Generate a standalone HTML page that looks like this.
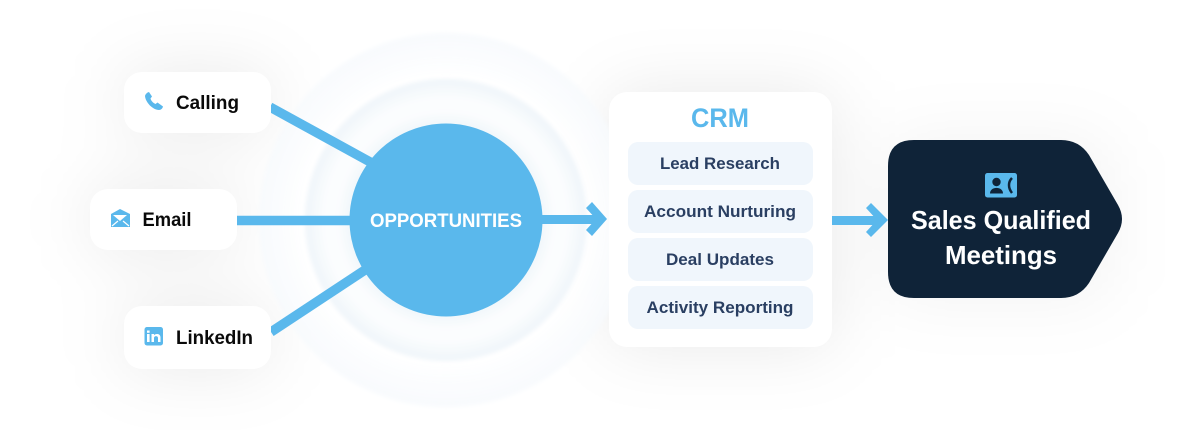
<!DOCTYPE html>
<html>
<head>
<meta charset="utf-8">
<style>
html,body{margin:0;padding:0;background:#fff;width:1200px;height:430px;overflow:hidden}
svg{display:block}
text{font-family:"Liberation Sans",sans-serif;font-weight:700}
</style>
</head>
<body>
<svg width="1200" height="430" viewBox="0 0 1200 430" xmlns="http://www.w3.org/2000/svg">
<defs>
<filter id="sh" x="-100%" y="-100%" width="300%" height="300%"><feGaussianBlur stdDeviation="34"/></filter>
<filter id="soft" x="-10%" y="-10%" width="120%" height="120%"><feGaussianBlur stdDeviation="2"/></filter>
<radialGradient id="r1" gradientUnits="userSpaceOnUse" cx="446" cy="220" r="187">
<stop offset="0.76" stop-color="#fff" stop-opacity="0.95"/><stop offset="1" stop-color="#f7fafd" stop-opacity="0.9"/>
</radialGradient>
<radialGradient id="r2" gradientUnits="userSpaceOnUse" cx="446" cy="220" r="141">
<stop offset="0.68" stop-color="#f1f7fb"/><stop offset="0.78" stop-color="#fcfdfe"/><stop offset="0.86" stop-color="#fbfdfe"/><stop offset="1" stop-color="#eff5fa"/>
</radialGradient>
</defs>
<rect width="1200" height="430" fill="#fff"/>
<g filter="url(#sh)" fill="#000" fill-opacity="0.085">
<rect x="124" y="72" width="147" height="61" rx="18"/>
<rect x="90" y="189" width="147" height="61" rx="18"/>
<rect x="124" y="306" width="147" height="63" rx="18"/>
<rect x="609" y="92" width="223" height="255" rx="18"/>
<rect x="888" y="140" width="220" height="158" rx="26" fill-opacity="0.05"/>
</g>
<circle cx="446" cy="220" r="187" fill="url(#r1)" filter="url(#soft)"/>
<circle cx="446" cy="220" r="141" fill="url(#r2)" filter="url(#soft)"/>
<g fill="none" stroke="#5ab8ec">
<path d="M270 107L372 163" stroke-width="9.500"/>
<path d="M237 220.500H352" stroke-width="9.500"/>
<path d="M271 332L368 268" stroke-width="9.500"/>
<path d="M540 219.500H600" stroke-width="9"/>
<path d="M831 220.500H880" stroke-width="9"/>
</g>
<g fill="#5ab8ec">
<path d="M592 202L607 219L592 236L586 230L596 219L586 208Z"/>
<path d="M871 203L888 220L871 237L866 232L877 220L866 208Z"/>
</g>
<circle cx="446" cy="220" r="96.500" fill="#5ab8ec"/>
<text x="446" y="227" fill="#fff" font-size="19.500" text-anchor="middle" textLength="152" lengthAdjust="spacingAndGlyphs">OPPORTUNITIES</text>

<rect x="124" y="72" width="147" height="61" rx="18" fill="#fff"/>
<rect x="90" y="189" width="147" height="61" rx="18" fill="#fff"/>
<rect x="124" y="306" width="147" height="63" rx="18" fill="#fff"/>

<path d="M149 92C147 92.500 145.500 94 145 96C145.500 102.500 153 110 159 110C161 110 162.500 108.500 163 106.500L157.500 102.500L155.500 104C153 103 151 100.500 150.500 98.500L152 96.500Z" fill="#5ab8ec"/>
<text x="176" y="109" fill="#0a0a0a" font-size="19" textLength="63" lengthAdjust="spacingAndGlyphs">Calling</text>

<path d="M111 214L120 209L130 214V227H111Z" fill="#5ab8ec"/>
<path d="M113 215H127L120 221Z" fill="#fff"/>
<path d="M112 226L118 221M129 226L123 221" stroke="#fff" stroke-width="1.200" fill="none"/>
<text x="142.500" y="226" fill="#0a0a0a" font-size="19" textLength="49" lengthAdjust="spacingAndGlyphs">Email</text>

<rect x="144.500" y="327" width="18.500" height="18.500" rx="2.500" fill="#5ab8ec"/>
<rect x="147" y="334" width="2.600" height="8" fill="#fff"/><rect x="147" y="330.500" width="2.600" height="2.300" fill="#fff"/>
<path d="M151.500 334H154V335.200C155 333.600 160.500 333 160.500 337.500V342H158V338C158 335.500 154 335.500 154 338V342H151.500Z" fill="#fff"/>
<text x="176" y="344" fill="#0a0a0a" font-size="19" textLength="77" lengthAdjust="spacingAndGlyphs">LinkedIn</text>

<rect x="609" y="92" width="223" height="255" rx="18" fill="#fff"/>
<text x="720" y="127" fill="#5ab8ec" font-size="27" text-anchor="middle" textLength="58" lengthAdjust="spacingAndGlyphs">CRM</text>
<g fill="#f0f6fc">
<rect x="628" y="142" width="185" height="43" rx="10"/>
<rect x="628" y="190" width="185" height="43" rx="10"/>
<rect x="628" y="238" width="185" height="43" rx="10"/>
<rect x="628" y="286" width="185" height="43" rx="10"/>
</g>
<g fill="#2a3f62" font-size="16.500" text-anchor="middle">
<text x="720" y="169" textLength="120" lengthAdjust="spacingAndGlyphs">Lead Research</text>
<text x="720" y="217" textLength="152" lengthAdjust="spacingAndGlyphs">Account Nurturing</text>
<text x="720" y="265" textLength="108" lengthAdjust="spacingAndGlyphs">Deal Updates</text>
<text x="720" y="313" textLength="147" lengthAdjust="spacingAndGlyphs">Activity Reporting</text>
</g>

<path d="M914 140H1061Q1079 140 1089 155L1118 205Q1126 219 1118 233L1089 283Q1079 298 1061 298H914Q888 298 888 272V166Q888 140 914 140Z" fill="#0f2338"/>
<rect x="985" y="173" width="32" height="24.500" rx="2.500" fill="#5ab8ec"/>
<circle cx="996.500" cy="182" r="4.200" fill="#0f2338"/>
<path d="M990 193.500C990 186 1003 186 1003 193.500Z" fill="#0f2338"/>
<path d="M1012 178C1008 182 1008 188 1012 193" stroke="#0f2338" stroke-width="2.500" fill="none"/>
<text x="1001" y="229" fill="#fff" font-size="26" text-anchor="middle" textLength="180" lengthAdjust="spacingAndGlyphs">Sales Qualified</text>
<text x="1001" y="264" fill="#fff" font-size="26" text-anchor="middle" textLength="112" lengthAdjust="spacingAndGlyphs">Meetings</text>
</svg>
</body>
</html>
